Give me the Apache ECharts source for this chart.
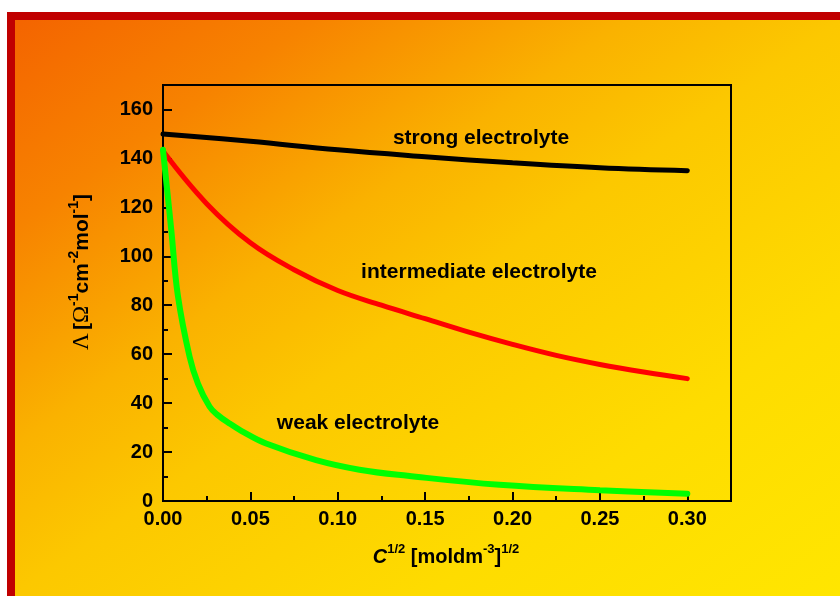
<!DOCTYPE html>
<html><head><meta charset="utf-8">
<script src="https://cdn.jsdelivr.net/npm/echarts@6/dist/echarts.min.js"></script>
<style>html,body{margin:0;padding:0;background:#fff}#c{width:840px;height:596px}</style>
</head><body><div id="c"></div>
<script>
// ---- data ----
const strongX = [0, 0.05, 0.10, 0.15, 0.20, 0.25, 0.30];
const strongY = [150, 147, 143.5, 140.7, 138.2, 136.2, 135];

const interX = [0, 0.025, 0.05, 0.075, 0.10, 0.125, 0.15, 0.175, 0.20, 0.225, 0.25, 0.275, 0.30];
const interY = [143, 121.5, 105.5, 94.5, 86, 80, 74.5, 69, 64, 59.5, 55.8, 52.7, 50];

const weakX = [0, 0.0047, 0.0085, 0.0152, 0.02, 0.0266, 0.031, 0.038, 0.045, 0.059, 0.0876, 0.1124, 0.14, 0.1925, 0.25, 0.30];
const weakY = [143.5, 111, 84, 59, 48, 38.6, 35.3, 31.7, 28.6, 23.5, 16.7, 12.8, 10.3, 6.6, 4.4, 3.0];

const xTickLabels = ['0.00','0.05','0.10','0.15','0.20','0.25','0.30'];
const yTickLabels = ['0','20','40','60','80','100','120','140','160'];
const seriesNames = ['strong electrolyte', 'intermediate electrolyte', 'weak electrolyte'];

const zip = (xs, ys) => xs.map((x, i) => [x, ys[i]]);
const FONT = 'Arial, "Liberation Sans", sans-serif';
const SERIF = '"Times New Roman", "Liberation Serif", serif';

const chart = echarts.init(document.getElementById('c'), null, {renderer: 'canvas'});

function xLabel(v) {
  const k = Math.round(v / 0.05);
  if (Math.abs(v - k * 0.05) < 1e-6 && k < xTickLabels.length) return xTickLabels[k];
  return '';
}
function yLabel(v) {
  const k = Math.round(v / 20);
  if (Math.abs(v - k * 20) < 1e-6 && k < yTickLabels.length) return yTickLabels[k];
  return '';
}

const tickStyle = {color: '#000', width: 2};
const lbl = {fontWeight: 'bold', fontSize: 20, color: '#000', fontFamily: FONT};

chart.setOption({
  animation: false,
  backgroundColor: '#fff',
  grid: {left: 163, top: 85, width: 568, height: 416, show: true, borderColor: '#000', borderWidth: 2, backgroundColor: 'transparent'},
  xAxis: [
    {type: 'value', min: 0, max: 0.325, interval: 0.05, position: 'bottom',
     axisLine: {show: true, onZero: false, lineStyle: tickStyle},
     axisTick: {show: true, inside: true, length: 9, lineStyle: tickStyle},
     axisLabel: Object.assign({formatter: xLabel, margin: 8, showMaxLabel: true}, lbl),
     splitLine: {show: false}},
    {type: 'value', min: 0, max: 0.325, interval: 0.025, position: 'bottom',
     axisLine: {show: false, onZero: false},
     axisTick: {show: true, inside: true, length: 5, lineStyle: tickStyle},
     axisLabel: {show: false}, splitLine: {show: false}}
  ],
  yAxis: [
    {type: 'value', min: 0, max: 170, interval: 20, position: 'left',
     axisLine: {show: true, onZero: false, lineStyle: tickStyle},
     axisTick: {show: true, inside: true, length: 9, lineStyle: tickStyle},
     axisLabel: Object.assign({formatter: yLabel, margin: 10}, lbl),
     splitLine: {show: false}},
    {type: 'value', min: 0, max: 170, interval: 10, position: 'left',
     axisLine: {show: false, onZero: false},
     axisTick: {show: true, inside: true, length: 5, lineStyle: tickStyle},
     axisLabel: {show: false}, splitLine: {show: false}}
  ],
  series: [
    {name: seriesNames[0], type: 'line', data: zip(strongX, strongY), symbol: 'none', smooth: 0.4, clip: false,
     lineStyle: {color: '#000', width: 5, cap: 'round'}, z: 3},
    {name: seriesNames[1], type: 'line', data: zip(interX, interY), symbol: 'none', smooth: 0.4, clip: false,
     lineStyle: {color: '#FF0000', width: 5, cap: 'round'}, z: 4},
    {name: seriesNames[2], type: 'line', data: zip(weakX, weakY), symbol: 'none', smooth: 0.4, clip: false,
     lineStyle: {color: '#00FF00', width: 6, cap: 'round'}, z: 5}
  ],
  graphic: [
    {type: 'rect', silent: true, z: -30, shape: {x: 7, y: 12, width: 833, height: 584}, style: {fill: '#C00000'}},
    {type: 'rect', silent: true, z: -20, shape: {x: 15, y: 20, width: 825, height: 576},
     style: {fill: new echarts.graphic.LinearGradient(15, 20, 553, 795, [
       {offset: 0, color: '#F46400'},
       {offset: 0.18, color: '#F78300'},
       {offset: 0.37, color: '#FAB200'},
       {offset: 0.5, color: '#FCC800'},
       {offset: 0.75, color: '#FEDC00'},
       {offset: 1, color: '#FFE600'}
     ], true)}},
    {type: 'text', x: 481, y: 138, z: 10, silent: true,
     style: {text: seriesNames[0], font: 'bold 21px ' + FONT, fill: '#000', textAlign: 'center', textVerticalAlign: 'middle', align: 'center', verticalAlign: 'middle'}},
    {type: 'text', x: 479, y: 272, z: 10, silent: true,
     style: {text: seriesNames[1], font: 'bold 21px ' + FONT, fill: '#000', textAlign: 'center', textVerticalAlign: 'middle', align: 'center', verticalAlign: 'middle'}},
    {type: 'text', x: 358, y: 423, z: 10, silent: true,
     style: {text: seriesNames[2], font: 'bold 21px ' + FONT, fill: '#000', textAlign: 'center', textVerticalAlign: 'middle', align: 'center', verticalAlign: 'middle'}},
    {type: 'text', x: 82, y: 272, rotation: Math.PI / 2, z: 10, silent: true,
     style: {
       text: '{g|Λ} {b|[}{g|Ω}{s|-1}{b|cm}{s|-2}{b|mol}{s|-1}{b|]}',
       fill: '#000', textAlign: 'center', textVerticalAlign: 'middle', align: 'center', verticalAlign: 'middle',
       rich: {
         g: {fontFamily: SERIF, fontSize: 23, fontWeight: 'normal', fill: '#000', color: '#000'},
         b: {fontFamily: FONT, fontSize: 21, fontWeight: 'bold', fill: '#000', color: '#000'},
         s: {fontFamily: FONT, fontSize: 14, fontWeight: 'bold', fill: '#000', color: '#000', padding: [0, 0, 16, 0]}
       }
     }},
    {type: 'text', x: 446, y: 557, z: 10, silent: true,
     style: {
       text: '{c|C}{s|1/2}{b| [moldm}{s|-3}{b|]}{s|1/2}',
       fill: '#000', textAlign: 'center', textVerticalAlign: 'middle', align: 'center', verticalAlign: 'middle',
       rich: {
         c: {fontFamily: FONT, fontSize: 20, fontWeight: 'bold', fontStyle: 'italic', fill: '#000', color: '#000'},
         b: {fontFamily: FONT, fontSize: 20, fontWeight: 'bold', fill: '#000', color: '#000'},
         s: {fontFamily: FONT, fontSize: 13, fontWeight: 'bold', fill: '#000', color: '#000', padding: [0, 0, 16, 0]}
       }
     }}
  ]
});
</script>
</body></html>
